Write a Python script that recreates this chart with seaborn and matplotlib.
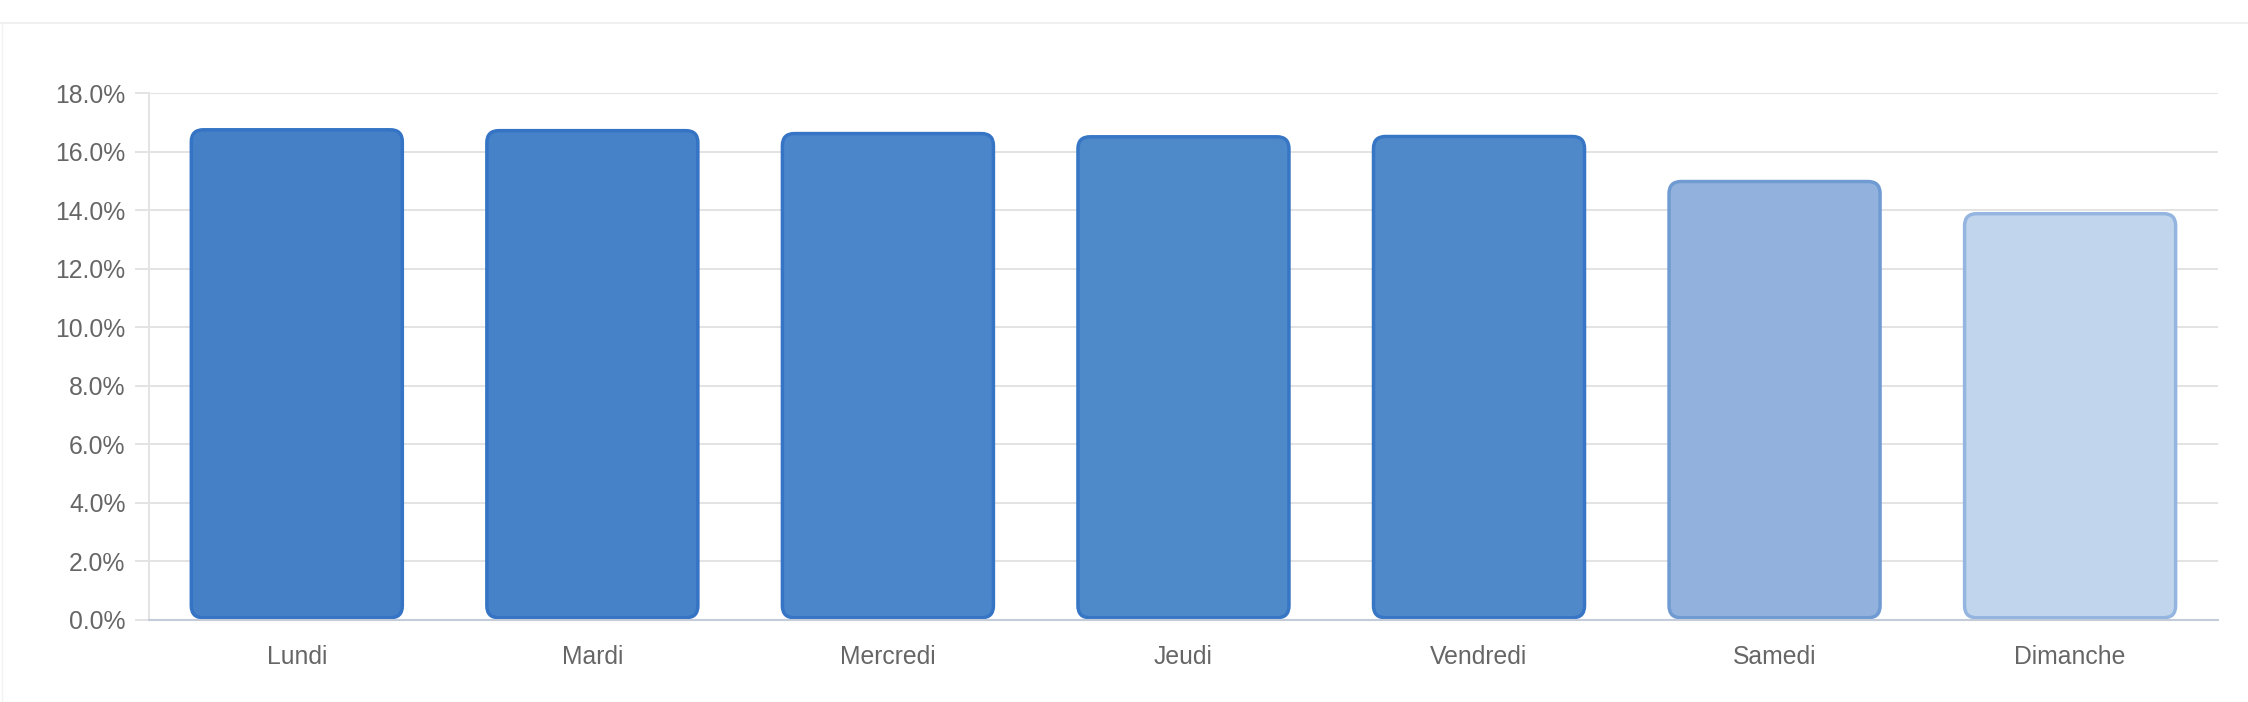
import pandas as pd
import matplotlib
matplotlib.use("Agg")
import matplotlib.pyplot as plt
from matplotlib.patches import FancyBboxPatch
from matplotlib.lines import Line2D
from matplotlib.ticker import FuncFormatter
import seaborn as sns

# data
days = ["Lundi", "Mardi", "Mercredi", "Jeudi", "Vendredi", "Samedi", "Dimanche"]
share = [16.75, 16.72, 16.62, 16.51, 16.52, 14.98, 13.88]
fill_colors = ["#4580c6", "#4682c7", "#4a86c9", "#4e89ca", "#4f89ca", "#92b2dd", "#c1d5ec"]
edge_colors = ["#3574c4", "#3574c4", "#3675c5", "#3776c5", "#3776c5", "#6f9bd2", "#93b5e0"]
y_ticks = [0, 2, 4, 6, 8, 10, 12, 14, 16, 18]

df = pd.DataFrame({"day": days, "share": share})

sns.set_theme(style="white")
plt.rcParams["font.family"] = ["Liberation Sans", "DejaVu Sans"]

fig = plt.figure(figsize=(22.48, 7.02), dpi=100)
ax = fig.add_axes([0.0663, 0.1175, 0.9203, 0.7497])

sns.barplot(data=df, x="day", y="share", hue="day", palette=fill_colors,
            order=days, legend=False, width=0.714, ax=ax)

ax.set_xlim(-0.5, 6.5)
ax.set_ylim(0, 18)

# swap the flat bars for rounded ones
w_px = ax.get_window_extent().width / 7.0
h_px = ax.get_window_extent().height / 18.0
aspect = w_px / h_px
for i, p in enumerate(list(ax.patches)):
    x, y = p.get_x(), p.get_y()
    w, h = p.get_width(), p.get_height()
    r = 12 / w_px
    box = FancyBboxPatch((x, y + 0.06), w, h - 0.06,
                         boxstyle=f"round,pad=0,rounding_size={r}",
                         mutation_aspect=aspect,
                         facecolor=fill_colors[i], edgecolor=edge_colors[i],
                         linewidth=2.5, zorder=3)
    ax.add_patch(box)
    p.remove()

ax.set_yticks(y_ticks)
ax.yaxis.set_major_formatter(FuncFormatter(lambda v, _: f"{v:.1f}%"))
ax.grid(axis="y", color="#e3e3e3", linewidth=1.4, zorder=0)
ax.set_axisbelow(True)

ax.tick_params(axis="y", length=10, width=1.4, color="#e3e3e3", pad=7,
               labelsize=17.8, labelcolor="#666666", left=True)
ax.tick_params(axis="x", length=0, pad=18, labelsize=17.8, labelcolor="#666666")

ax.set_xlabel("")
ax.set_ylabel("")

for side in ["top", "right"]:
    ax.spines[side].set_visible(False)
ax.spines["left"].set_color("#e3e3e3")
ax.spines["left"].set_linewidth(1.4)
ax.spines["bottom"].set_color("#c3ccd8")
ax.spines["bottom"].set_linewidth(1.5)
ax.spines["bottom"].set_zorder(4)

# faint card border
fig.add_artist(Line2D([0, 1], [0.967, 0.967], transform=fig.transFigure,
                      color="#f0f0f0", linewidth=1.5))
fig.add_artist(Line2D([0.001, 0.001], [0, 0.967], transform=fig.transFigure,
                      color="#f3f3f3", linewidth=1.0))

fig.savefig("out.png", dpi=100, facecolor="white")
